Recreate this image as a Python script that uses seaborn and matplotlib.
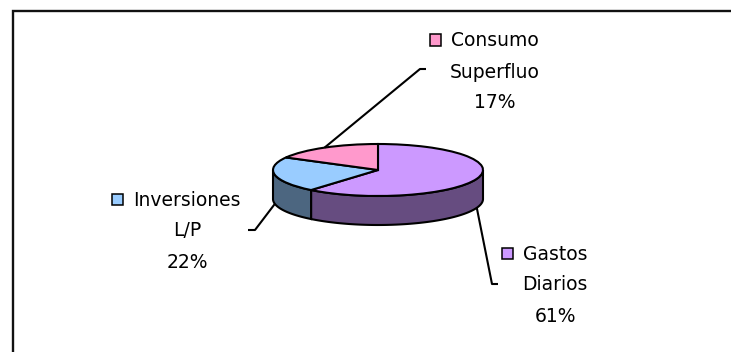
import numpy as np
import matplotlib
matplotlib.use("Agg")
import matplotlib.pyplot as plt
from matplotlib.patches import Polygon, Rectangle
import seaborn as sns

# ---- data -------------------------------------------------------------
categories = ["Gastos Diarios", "Inversiones L/P", "Consumo Superfluo"]
label_lines = [["Gastos", "Diarios"], ["Inversiones", "L/P"], ["Consumo", "Superfluo"]]
values = [61, 22, 17]
top_colors = ["#CC99FF", "#99CCFF", "#FF99CC"]
side_colors = ["#664C80", "#4C6680", "#804C66"]

# ---- layout (figure pixels, y measured downward) ----------------------
W, H = 731, 352
CX, CY = 378, 170          # centre of the top face
RX, RY = 105, 26           # ellipse radii of the top face
DEPTH = 29                 # thickness of the disc
label_anchor = [(555, 254), (187, 200), (495, 41)]   # centre of first label line
line_gap = 31
leader_elbow = [((492, 284), (498, 284)),
                ((255, 230), (248, 230)),
                ((420, 69), (426, 69))]
key_size = 11
key_gap = 10
LW = 1.5

sns.set_theme(style="white")
plt.rcParams["font.family"] = ["DejaVu Sans"]
FONT_SIZE = 13.5

fig = plt.figure(figsize=(W / 100, H / 100), dpi=100)
ax = fig.add_axes([0, 0, 1, 1])


def px(x, y):
    """Figure pixel (y downward) -> data coordinates of the pie axes."""
    return (x - CX) / RX, (CY - y) / RY


depth = DEPTH / RY

# ---- top face --------------------------------------------------------
wedges, _ = ax.pie(values, colors=top_colors, startangle=90, counterclock=False,
                   radius=1, center=(0, 0), frame=True,
                   wedgeprops=dict(edgecolor="black", linewidth=LW, zorder=3))

# the disc is drawn squashed: one data unit is RX pixels across, RY down
ax.set_aspect("auto")
ax.set_xlim((0 - CX) / RX, (W - CX) / RX)
ax.set_ylim((CY - H) / RY, CY / RY)
ax.set_autoscale_on(False)
ax.set_axis_off()

# ---- side walls (front half only) ------------------------------------
fracs = np.array(values, dtype=float) / np.sum(values)
cum = np.concatenate([[0], np.cumsum(fracs)])
mids = []
for i, (c0, c1) in enumerate(zip(cum[:-1], cum[1:])):
    a_hi = 90 - 360 * c0
    a_lo = 90 - 360 * c1
    mids.append(np.radians((a_hi + a_lo) / 2))
    for shift in (-360, 0, 360):
        lo = max(a_lo + shift, -180)
        hi = min(a_hi + shift, 0)
        if hi <= lo:
            continue
        t = np.radians(np.linspace(lo, hi, 120))
        top = np.column_stack([np.cos(t), np.sin(t)])
        bot = np.column_stack([np.cos(t), np.sin(t) - depth])[::-1]
        ax.add_patch(Polygon(np.vstack([top, bot]), closed=True,
                             facecolor=side_colors[i], edgecolor="black",
                             linewidth=LW, zorder=2))

# ---- leader lines ----------------------------------------------------
for i, m in enumerate(mids):
    sx, sy = np.cos(m), np.sin(m)
    if sy < 0:
        sy -= depth
    (ex, ey), (tx, ty) = leader_elbow[i]
    p1 = px(ex, ey)
    p2 = px(tx, ty)
    ax.plot([sx, p1[0], p2[0]], [sy, p1[1], p2[1]], color="black",
            linewidth=LW, zorder=4, solid_capstyle="butt")

# ---- labels ----------------------------------------------------------
first_lines = []
for i, lines in enumerate(label_lines):
    lx, ly = label_anchor[i]
    texts = lines + [f"{values[i]}%"]
    for k, s in enumerate(texts):
        x, y = px(lx, ly + k * line_gap)
        t = ax.text(x, y, s, ha="center", va="center", fontsize=FONT_SIZE,
                    color="black", zorder=5)
        if k == 0:
            first_lines.append(t)

fig.canvas.draw()
renderer = fig.canvas.get_renderer()
for i, t in enumerate(first_lines):
    bb = t.get_window_extent(renderer)
    lx, ly = label_anchor[i]
    x0 = bb.x0 - key_gap - key_size
    y_top = ly - 1 - key_size / 2
    d0 = px(x0, y_top + key_size)
    ax.add_patch(Rectangle(d0, key_size / RX, key_size / RY,
                           facecolor=top_colors[i], edgecolor="black",
                           linewidth=1.1, zorder=5))

# ---- chart frame ----------------------------------------------------
fx = px(12.5, H + 5)
fy = px(12.5, 10.5)
fr = px(W + 5, 10.5)
ax.plot([fx[0], fy[0], fr[0]], [fx[1], fy[1], fr[1]], color="#111111",
        linewidth=1.7, zorder=6, solid_joinstyle="miter")

fig.savefig("out.png", dpi=100, facecolor="white")
